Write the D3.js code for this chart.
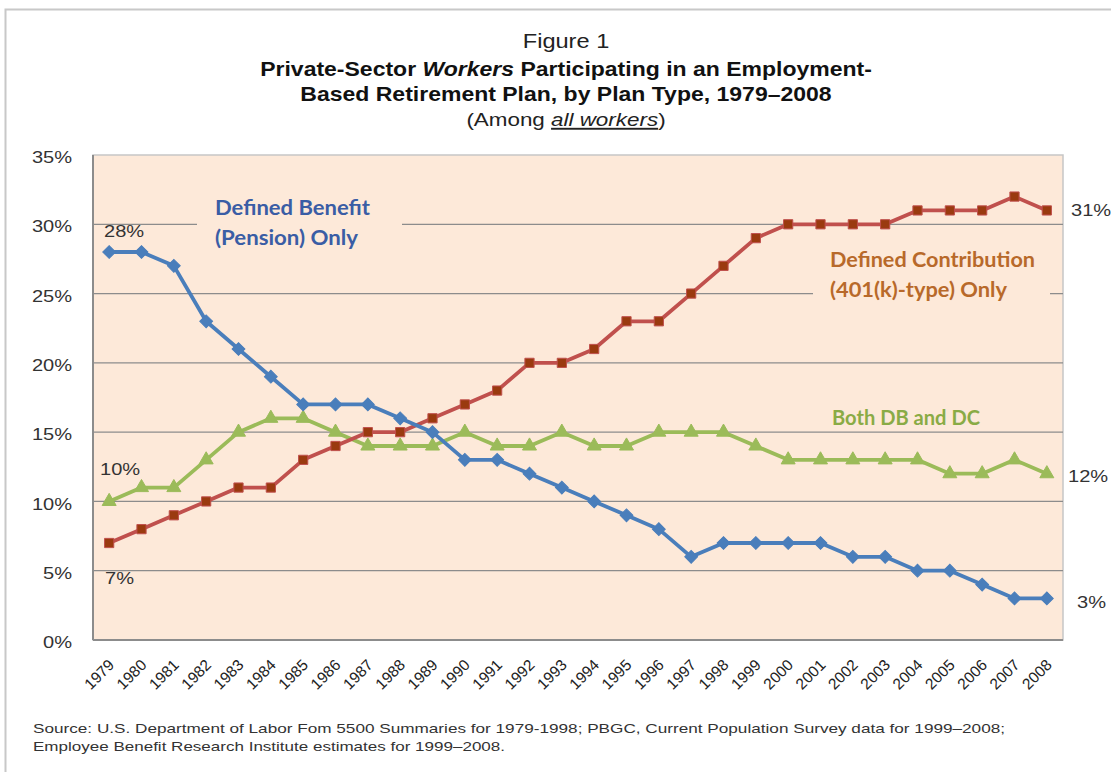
<!DOCTYPE html>
<html><head><meta charset="utf-8">
<script src="https://cdn.jsdelivr.net/npm/d3@7"></script>
<style>
body{margin:0;background:#fff;}
svg{display:block;}
</style></head>
<body>
<svg id="chart" width="1111" height="772"></svg>
<script>
const years = d3.range(1979, 2009).map(String);
const definedBenefit = [28,28,27,23,21,19,17,17,17,16,15,13,13,12,11,10,9,8,6,7,7,7,7,6,6,5,5,4,3,3];
const definedContribution = [7,8,9,10,11,11,13,14,15,15,16,17,18,20,20,21,23,23,25,27,29,30,30,30,30,31,31,31,32,31];
const bothDbDc = [10,11,11,13,15,16,16,15,14,14,14,15,14,14,15,14,14,15,15,15,14,13,13,13,13,13,12,12,13,12];
const yTicks = [0,5,10,15,20,25,30,35];

const svg = d3.select("#chart");
const L = 93, R = 1063, T = 155, B = 640;
const K = 1.18; // horizontal stretch of the reference's glyphs
const x = d3.scalePoint().domain(years).range([L, R]).padding(0.5);
const y = d3.scaleLinear().domain([0, 35]).range([B, T]);
const plotBg = "#fde9d9";
const hs = ax => `translate(${ax},0) scale(${K},1) translate(${-ax},0)`;

// outer frame
svg.append("rect").attr("x",5.5).attr("y",9.5).attr("width",1120).attr("height",800)
  .attr("fill","none").attr("stroke","#c8c8c8").attr("stroke-width",2);

// titles
const tf = "'Liberation Sans', Arial, sans-serif";
const CX = 566;
svg.append("text").attr("x",CX).attr("y",48).attr("text-anchor","middle").attr("transform",hs(CX))
  .attr("font-family",tf).attr("font-size",20).attr("fill","#222").text("Figure 1");
svg.append("text").attr("x",CX).attr("y",76).attr("text-anchor","middle").attr("transform",hs(CX))
  .attr("font-family",tf).attr("font-size",19.5).attr("font-weight","bold").attr("fill","#111")
  .call(t=>{t.append("tspan").text("Private-Sector ");t.append("tspan").attr("font-style","italic").text("Workers");t.append("tspan").text(" Participating in an Employment-");});
svg.append("text").attr("x",CX).attr("y",101).attr("text-anchor","middle").attr("transform",hs(CX))
  .attr("font-family",tf).attr("font-size",19.5).attr("font-weight","bold").attr("fill","#111")
  .text("Based Retirement Plan, by Plan Type, 1979\u20132008");
svg.append("text").attr("x",CX).attr("y",126).attr("text-anchor","middle").attr("transform",hs(CX))
  .attr("font-family",tf).attr("font-size",19).attr("fill","#222")
  .call(t=>{t.append("tspan").text("(Among ");t.append("tspan").attr("font-style","italic").attr("text-decoration","underline").text("all workers");t.append("tspan").text(")");});

// plot background
svg.append("rect").attr("x",L).attr("y",T).attr("width",R-L).attr("height",B-T)
  .attr("fill",plotBg).attr("stroke","#c6c6c6").attr("stroke-width",1.5);

// gridlines
svg.append("g").selectAll("line").data(yTicks.filter(d=>d>0 && d<35)).join("line")
  .attr("x1",L).attr("x2",R).attr("y1",d=>y(d)).attr("y2",d=>y(d))
  .attr("stroke","#8c8c8c").attr("stroke-width",1.3);

// axis lines
svg.append("line").attr("x1",L).attr("x2",L).attr("y1",T).attr("y2",B).attr("stroke","#8c8c8c").attr("stroke-width",2);
svg.append("line").attr("x1",L).attr("x2",R).attr("y1",B).attr("y2",B).attr("stroke","#8c8c8c").attr("stroke-width",2);

// y axis
const yAxis = svg.append("g").attr("transform",`translate(72,0) scale(${K},1)`)
  .call(d3.axisLeft(y).tickValues(yTicks).tickFormat(d=>d+"%").tickSize(0).tickPadding(0));
yAxis.select(".domain").remove();
yAxis.selectAll("text").attr("font-family",tf).attr("font-size",17).attr("fill","#333").attr("dy","0.45em");

// x axis
svg.append("g").selectAll("text").data(years).join("text")
  .attr("transform",d=>`translate(${x(d)+6},${B+26}) rotate(-45)`)
  .attr("text-anchor","end").attr("font-family",tf).attr("font-size",15.5).attr("fill","#222")
  .text(d=>d);

// series label backgrounds (mask gridlines)
svg.append("rect").attr("x",197).attr("y",196).attr("width",205).attr("height",55).attr("fill",plotBg);
svg.append("rect").attr("x",813).attr("y",248).attr("width",237).attr("height",55).attr("fill",plotBg);

const lf = "Lato, 'Open Sans', sans-serif";
function lab(t, xx, yy, w, col){
  svg.append("text").attr("x",xx).attr("y",yy).attr("font-family",lf).attr("font-size",21)
    .attr("font-weight","bold").attr("fill",col).attr("textLength",w).attr("lengthAdjust","spacingAndGlyphs").text(t);
}
lab("Defined Benefit",215,215,155,"#3a5da5");
lab("(Pension) Only",215,245,143,"#3a5da5");
lab("Defined Contribution",830,267,205,"#b8692a");
lab("(401(k)-type) Only",830,297,177,"#b8692a");
lab("Both DB and DC",832,425,148,"#8aab45");

// lines
const line = d3.line().x((d,i)=>x(years[i])).y(d=>y(d));
function series(vals, color, marker, mfill, size, rot){
  svg.append("path").datum(vals).attr("d",line).attr("fill","none").attr("stroke",color)
    .attr("stroke-width",3.8).attr("stroke-linejoin","round");
  svg.append("g").selectAll("path").data(vals).join("path")
    .attr("transform",(d,i)=>`translate(${x(years[i])},${y(d)}) rotate(${rot})`)
    .attr("d",d3.symbol().type(marker).size(size))
    .attr("fill",mfill).attr("stroke",color).attr("stroke-width",1);
}
series(bothDbDc,"#9bbb59",d3.symbolTriangle,"#9bbb59",85,0);
series(definedContribution,"#c0504d",d3.symbolSquare,"#9a3a0f",85,0);
series(definedBenefit,"#4a7ebb",d3.symbolSquare,"#4a7ebb",82,45);

// value labels
const vl = (t,xx,yy)=>svg.append("text").attr("x",xx).attr("y",yy).attr("transform",hs(xx))
  .attr("font-family",tf).attr("font-size",17).attr("fill","#333").text(t);
vl(definedBenefit[0]+"%",104,237);
vl(bothDbDc[0]+"%",100,475);
vl(definedContribution[0]+"%",105,584);
vl(definedContribution[29]+"%",1071,216);
vl(bothDbDc[29]+"%",1068,482);
vl(definedBenefit[29]+"%",1077,608);

// source
const sf = svg.append("text").attr("font-family",tf).attr("font-size",13.5).attr("fill","#333");
sf.append("tspan").attr("x",33).attr("y",733).attr("textLength",972).attr("lengthAdjust","spacingAndGlyphs")
  .text("Source: U.S. Department of Labor Fom 5500 Summaries for 1979-1998; PBGC, Current Population Survey data for 1999\u20132008;");
sf.append("tspan").attr("x",33).attr("y",751).attr("textLength",472).attr("lengthAdjust","spacingAndGlyphs")
  .text("Employee Benefit Research Institute estimates for 1999\u20132008.");
</script>
</body></html>
